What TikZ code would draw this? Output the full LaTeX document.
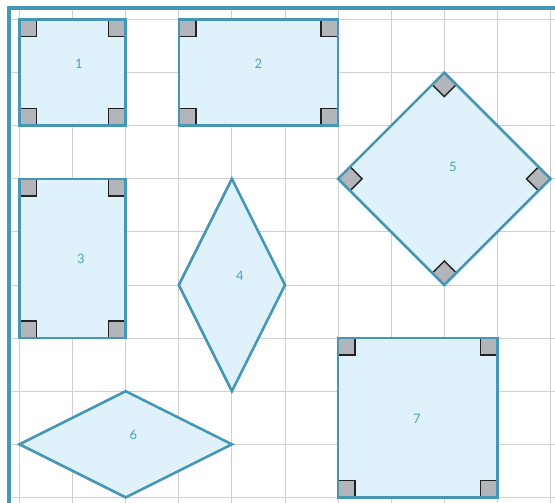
\documentclass[tikz,border=0pt]{standalone}
\usepackage{fontspec}
\setmainfont{Lato}
\definecolor{gridc}{HTML}{D0D0D0}
\definecolor{edgec}{HTML}{4697B6}
\definecolor{fillc}{HTML}{DFF2FB}
\definecolor{markc}{HTML}{B2B5BA}
\definecolor{markd}{HTML}{222222}
\definecolor{labc}{HTML}{4DA0C2}
\tikzset{
  gridline/.style={gridc, line width=0.9pt},
  border/.style={edgec, line width=3.6pt},
  shapefill/.style={fill=fillc},
  shapeedge/.style={draw=edgec, line width=2.6pt, line join=miter},
  markfill/.style={fill=markc},
  markedge/.style={draw=markd, line width=1.4pt},
  lab/.style={text=labc, font=\fontsize{13}{13}\selectfont, inner sep=0pt}
}
\newcommand{\rmark}[6]{%
  \path (#1,#2) coordinate (rc) ++(#3,#4) coordinate (rp) ++(#5,#6) coordinate (rq);
  \path (rc) ++(#5,#6) coordinate (rr);
  \fill[markfill] (rc) -- (rp) -- (rq) -- (rr) -- cycle;
  \draw[markedge] (rp) -- (rq) -- (rr);
}
\begin{document}
\begin{tikzpicture}[x=1pt,y=-1pt]
\useasboundingbox (0,0) rectangle (555,503);
% grid
\foreach \k in {0,...,10} {
  \pgfmathsetmacro{\g}{19.5+53.1*\k}
  \draw[gridline] (\g,8) -- (\g,503);
}
\foreach \k in {0,...,9} {
  \pgfmathsetmacro{\g}{19.5+53.1*\k}
  \draw[gridline] (8,\g) -- (555,\g);
}
\draw[border] (8.8,503) -- (8.8,8.2) -- (555,8.2);

% coordinates of shapes
\coordinate (s1a) at (19.5,19.5);  \coordinate (s1b) at (125.7,125.7);
\coordinate (s2a) at (178.8,19.5); \coordinate (s2b) at (338.1,125.7);
\coordinate (s3a) at (19.5,178.8); \coordinate (s3b) at (125.7,338.1);
\coordinate (s7a) at (338.1,338.1); \coordinate (s7b) at (497.4,497.4);
\coordinate (s4t) at (231.9,178.8); \coordinate (s4r) at (285,285);
\coordinate (s4b) at (231.9,391.2); \coordinate (s4l) at (178.8,285);
\coordinate (s5t) at (444.3,72.6);  \coordinate (s5r) at (550.5,178.8);
\coordinate (s5b) at (444.3,285);   \coordinate (s5l) at (338.1,178.8);
\coordinate (s6l) at (19.5,444.3);  \coordinate (s6t) at (125.7,391.2);
\coordinate (s6r) at (231.9,444.3); \coordinate (s6b) at (125.7,497.4);

% fills
\fill[shapefill] (s1a) rectangle (s1b);
\fill[shapefill] (s2a) rectangle (s2b);
\fill[shapefill] (s3a) rectangle (s3b);
\fill[shapefill] (s7a) rectangle (s7b);
\fill[shapefill] (s4t) -- (s4r) -- (s4b) -- (s4l) -- cycle;
\fill[shapefill] (s5t) -- (s5r) -- (s5b) -- (s5l) -- cycle;
\fill[shapefill] (s6l) -- (s6t) -- (s6r) -- (s6b) -- cycle;

% right-angle marks
\def\m{17}
% shape 1
\rmark{19.5}{19.5}{\m}{0}{0}{\m}
\rmark{125.7}{19.5}{-\m}{0}{0}{\m}
\rmark{19.5}{125.7}{\m}{0}{0}{-\m}
\rmark{125.7}{125.7}{-\m}{0}{0}{-\m}
% shape 2
\rmark{178.8}{19.5}{\m}{0}{0}{\m}
\rmark{338.1}{19.5}{-\m}{0}{0}{\m}
\rmark{178.8}{125.7}{\m}{0}{0}{-\m}
\rmark{338.1}{125.7}{-\m}{0}{0}{-\m}
% shape 3
\rmark{19.5}{178.8}{\m}{0}{0}{\m}
\rmark{125.7}{178.8}{-\m}{0}{0}{\m}
\rmark{19.5}{338.1}{\m}{0}{0}{-\m}
\rmark{125.7}{338.1}{-\m}{0}{0}{-\m}
% shape 7
\rmark{338.1}{338.1}{\m}{0}{0}{\m}
\rmark{497.4}{338.1}{-\m}{0}{0}{\m}
\rmark{338.1}{497.4}{\m}{0}{0}{-\m}
\rmark{497.4}{497.4}{-\m}{0}{0}{-\m}
% shape 5 (rotated)
\def\d{12}
\rmark{444.3}{72.6}{-\d}{\d}{\d}{\d}
\rmark{550.5}{178.8}{-\d}{-\d}{-\d}{\d}
\rmark{444.3}{285}{\d}{-\d}{-\d}{-\d}
\rmark{338.1}{178.8}{\d}{\d}{\d}{-\d}

% outlines
\draw[shapeedge] (s1a) rectangle (s1b);
\draw[shapeedge] (s2a) rectangle (s2b);
\draw[shapeedge] (s3a) rectangle (s3b);
\draw[shapeedge] (s7a) rectangle (s7b);
\draw[shapeedge] (s4t) -- (s4r) -- (s4b) -- (s4l) -- cycle;
\draw[shapeedge] (s5t) -- (s5r) -- (s5b) -- (s5l) -- cycle;
\draw[shapeedge] (s6l) -- (s6t) -- (s6r) -- (s6b) -- cycle;

% labels
\node[lab] (l1) at (79,63.5) {1};
\node[lab] (l2) at (258.5,64) {2};
\node[lab] (l3) at (81,259) {3};
\node[lab] (l4) at (240,276) {4};
\node[lab] (l5) at (453,167) {5};
\node[lab] (l6) at (133.5,435) {6};
\node[lab] (l7) at (417,418.5) {7};
\end{tikzpicture}
\end{document}
